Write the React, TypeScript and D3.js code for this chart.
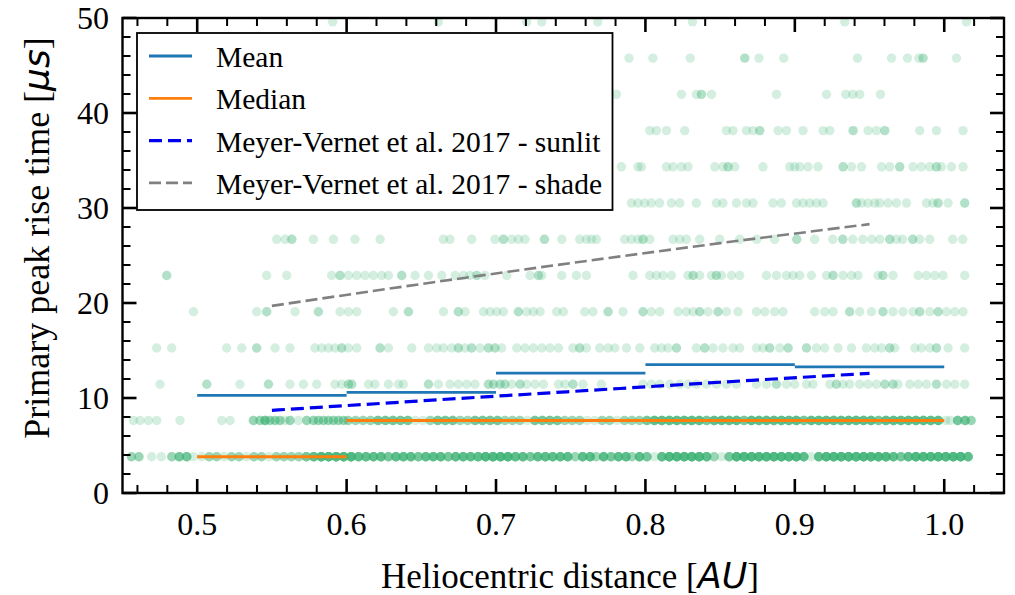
import React from "react";
import * as d3 from "d3";

const W = 1015;
const H = 595;
const plot = { left: 122.5, right: 1004, top: 18, bottom: 493 };

// Rise time levels (multiples of the sampling period, in microseconds)
const riseTimes = [3.815, 7.63, 11.445, 15.26, 19.075, 22.89, 26.705, 30.52, 34.335, 38.15, 41.965, 45.78, 49.595];

// Densely populated levels: [distance, number of events]
const row1: [number, number][] = [
  [0.456, 3], [0.461, 3], [0.4695, 1], [0.476, 1], [0.483, 3], [0.488, 5], [0.493, 5], [0.4975, 1], [0.503, 1],
  [0.508, 3], [0.513, 3], [0.518, 1], [0.523, 3], [0.528, 3], [0.533, 1], [0.538, 3], [0.543, 3], [0.548, 1],
  [0.553, 3], [0.558, 3], [0.563, 3], [0.568, 3], [0.573, 5], [0.578, 7], [0.583, 9], [0.588, 9], [0.593, 9],
  [0.598, 9], [0.603, 9], [0.608, 7], [0.613, 7], [0.618, 7], [0.623, 7], [0.628, 5], [0.633, 7], [0.638, 7],
  [0.643, 7], [0.648, 5], [0.653, 7], [0.658, 7], [0.663, 7], [0.668, 5], [0.673, 7], [0.678, 7], [0.683, 7],
  [0.688, 7], [0.693, 9], [0.698, 9], [0.703, 9], [0.708, 9], [0.713, 7], [0.718, 7], [0.723, 5], [0.728, 7],
  [0.733, 7], [0.738, 7], [0.743, 7], [0.748, 7], [0.753, 3], [0.758, 7], [0.763, 7], [0.767, 3], [0.772, 7],
  [0.777, 5], [0.782, 7], [0.787, 7], [0.791, 3], [0.796, 7], [0.801, 5], [0.806, 1], [0.811, 7], [0.816, 9],
  [0.821, 9], [0.826, 9], [0.831, 9], [0.836, 9], [0.841, 7], [0.846, 3], [0.851, 1], [0.856, 5], [0.861, 9],
  [0.866, 9], [0.871, 9], [0.876, 9], [0.881, 9], [0.886, 9], [0.891, 9], [0.896, 9], [0.901, 9], [0.906, 7],
  [0.911, 1], [0.916, 7], [0.921, 9], [0.926, 9], [0.931, 9], [0.936, 9], [0.941, 9], [0.946, 9], [0.951, 9],
  [0.956, 9], [0.961, 9], [0.966, 7], [0.971, 5], [0.976, 7], [0.981, 9], [0.986, 9], [0.991, 9], [0.996, 9],
  [1.001, 9], [1.006, 9], [1.011, 9], [1.016, 7],
];

const row2: [number, number][] = [
  [0.4573, 1], [0.4617, 1], [0.4673, 1], [0.4729, 1], [0.4885, 1], [0.5164, 1], [0.522, 1], [0.5376, 3],
  [0.542, 3], [0.5454, 5], [0.5487, 3], [0.5521, 3], [0.5554, 3], [0.5588, 1], [0.5621, 3], [0.5677, 1],
  [0.5733, 3], [0.5778, 3], [0.5811, 3], [0.5845, 3], [0.5878, 3], [0.5912, 3], [0.5945, 3], [0.5979, 3],
  [0.601, 3], [0.606, 3], [0.611, 3], [0.616, 3], [0.621, 5], [0.626, 5], [0.631, 5], [0.636, 5], [0.641, 5],
  [0.646, 1], [0.651, 1], [0.656, 3], [0.661, 5], [0.666, 5], [0.671, 5], [0.676, 3], [0.681, 3], [0.686, 5],
  [0.691, 5], [0.696, 5], [0.701, 5], [0.706, 3], [0.711, 3], [0.716, 3], [0.721, 1], [0.726, 5], [0.731, 5],
  [0.736, 5], [0.741, 5], [0.746, 3], [0.751, 3], [0.756, 3], [0.761, 1], [0.766, 1], [0.771, 3], [0.776, 3],
  [0.781, 1], [0.786, 3], [0.791, 3], [0.796, 3], [0.801, 5], [0.806, 7], [0.811, 7], [0.816, 7], [0.821, 7],
  [0.826, 7], [0.831, 7], [0.836, 7], [0.841, 5], [0.846, 7], [0.851, 7], [0.856, 7], [0.861, 7], [0.866, 5],
  [0.871, 7], [0.876, 7], [0.881, 7], [0.886, 7], [0.891, 7], [0.896, 7], [0.901, 7], [0.906, 5], [0.911, 7],
  [0.916, 7], [0.921, 7], [0.926, 7], [0.931, 7], [0.936, 7], [0.941, 7], [0.946, 7], [0.951, 7], [0.956, 5],
  [0.961, 7], [0.966, 7], [0.971, 7], [0.976, 7], [0.981, 7], [0.986, 7], [0.991, 7], [0.996, 7], [1.001, 1],
  [1.004, 1], [1.009, 5], [1.014, 5], [1.018, 3],
];

// Sparser levels: one entry per event (repeated values are coincident events)
const row3 = [
  0.4751, 0.5064, 0.5064, 0.5286, 0.5477, 0.5477, 0.5621, 0.5711, 0.58, 0.5922, 0.5967, 0.6012, 0.6012, 0.6034,
  0.6034, 0.6146, 0.619, 0.628, 0.6347, 0.638, 0.6548, 0.6548, 0.6614, 0.6692, 0.6748, 0.6804, 0.6859, 0.6949,
  0.6949, 0.6983, 0.6983, 0.7027, 0.7027, 0.706, 0.706, 0.7105, 0.7161, 0.7161, 0.7205, 0.7261, 0.7317, 0.7418,
  0.7462, 0.7515, 0.7515, 0.7582, 0.7705, 0.7984, 0.804, 0.8096, 0.8163, 0.823, 0.8285, 0.8341, 0.8408, 0.8475,
  0.8542, 0.8609, 0.8743, 0.881, 0.8877, 0.8877, 0.8944, 0.8999, 0.9078, 0.9122, 0.9234, 0.9278, 0.9278, 0.9323,
  0.9367, 0.9434, 0.949, 0.9546, 0.9602, 0.9602, 0.9657, 0.9657, 0.9691, 0.9769, 0.9825, 0.9881, 0.9948, 0.9948,
  1.0015, 1.0071, 1.0137,
];
const row4 = [
  0.4729, 0.4829, 0.5197, 0.5298, 0.5398, 0.5398, 0.5521, 0.5621, 0.5788, 0.5833, 0.5878, 0.5922, 0.5967, 0.5967,
  0.6012, 0.6068, 0.6224, 0.6224, 0.628, 0.6436, 0.6548, 0.6603, 0.6648, 0.6703, 0.6748, 0.6748, 0.6793, 0.6837,
  0.6837, 0.6893, 0.6949, 0.6949, 0.6993, 0.6993, 0.7038, 0.7139, 0.7194, 0.725, 0.7306, 0.7361, 0.7418, 0.7515,
  0.756, 0.756, 0.7605, 0.7694, 0.775, 0.7795, 0.7873, 0.7962, 0.8062, 0.8107, 0.8151, 0.8208, 0.8208, 0.8341,
  0.8397, 0.8397, 0.8453, 0.8519, 0.8586, 0.8631, 0.8743, 0.8787, 0.8832, 0.8832, 0.8899, 0.8955, 0.8955, 0.9078,
  0.9078, 0.9145, 0.92, 0.9289, 0.9379, 0.9479, 0.9535, 0.958, 0.9635, 0.9635, 0.9669, 0.9803, 0.9847, 0.9903,
  0.9948, 0.9948, 1.0026, 1.0137,
];
const row5 = [
  0.4975, 0.5398, 0.5465, 0.5465, 0.5655, 0.5811, 0.5811, 0.5956, 0.6012, 0.6068, 0.6313, 0.6414, 0.6414, 0.6648,
  0.6748, 0.6748, 0.6793, 0.6916, 0.696, 0.7005, 0.705, 0.715, 0.715, 0.7205, 0.725, 0.7295, 0.7406, 0.7451,
  0.7594, 0.7649, 0.775, 0.775, 0.785, 0.7984, 0.7984, 0.804, 0.8096, 0.8218, 0.8274, 0.8319, 0.8363, 0.8363,
  0.8419, 0.8486, 0.8486, 0.8542, 0.862, 0.8743, 0.8799, 0.8865, 0.8921, 0.9133, 0.92, 0.9256, 0.9367, 0.9367,
  0.9434, 0.9513, 0.959, 0.959, 0.9657, 0.9724, 0.9791, 0.9836, 0.9836, 0.9903, 0.9959, 0.9959, 1.0015, 1.0071,
  1.0126,
];
const row6 = [
  0.4796, 0.4796, 0.5465, 0.5599, 0.59, 0.5956, 0.5956, 0.6012, 0.6068, 0.6123, 0.6179, 0.6235, 0.628, 0.6369,
  0.6369, 0.6458, 0.6548, 0.6637, 0.6726, 0.6782, 0.6826, 0.6871, 0.6871, 0.6926, 0.7072, 0.7228, 0.7284, 0.7284,
  0.7306, 0.744, 0.7538, 0.7605, 0.7917, 0.8029, 0.8074, 0.8118, 0.8174, 0.8285, 0.8319, 0.8319, 0.8363, 0.8442,
  0.8475, 0.8475, 0.8509, 0.8576, 0.8631, 0.881, 0.8877, 0.8944, 0.8988, 0.9033, 0.9111, 0.9212, 0.9256, 0.9256,
  0.9323, 0.9379, 0.9423, 0.9557, 0.959, 0.959, 0.9657, 0.9825, 0.9881, 0.9937, 0.9992, 1.0137,
];
const row7 = [
  0.5532, 0.5588, 0.5633, 0.5633, 0.5778, 0.5912, 0.6056, 0.6224, 0.6648, 0.6692, 0.6837, 0.6993, 0.705, 0.705,
  0.7105, 0.715, 0.7194, 0.7324, 0.7324, 0.744, 0.756, 0.7605, 0.7639, 0.7672, 0.7861, 0.7906, 0.795, 0.7984,
  0.7984, 0.8029, 0.8185, 0.823, 0.8274, 0.8363, 0.8497, 0.8631, 0.8745, 0.8865, 0.9013, 0.9013, 0.9133, 0.9254,
  0.9321, 0.9321, 0.9388, 0.9455, 0.9515, 0.9568, 0.9635, 0.9635, 0.968, 0.9722, 0.9789, 0.9789, 0.9836, 0.9903,
  1.0057, 1.0124,
];
const row8 = [
  0.7906, 0.795, 0.7995, 0.804, 0.8095, 0.8174, 0.823, 0.8341, 0.8475, 0.8519, 0.8609, 0.8676, 0.872, 0.8854,
  0.891, 0.9011, 0.9055, 0.91, 0.9145, 0.9189, 0.9412, 0.9412, 0.9446, 0.949, 0.9535, 0.9568, 0.9624, 0.968,
  0.9747, 0.9881, 0.9925, 0.9959, 0.9959, 1.0026, 1.0137, 1.0137,
];
const row9 = [
  0.7839, 0.795, 0.7973, 0.8141, 0.8185, 0.8241, 0.8285, 0.8464, 0.8519, 0.8553, 0.8553, 0.8598, 0.8787, 0.8966,
  0.8999, 0.9033, 0.9088, 0.9155, 0.9323, 0.9323, 0.9379, 0.9446, 0.958, 0.9635, 0.9702, 0.9702, 0.9791, 0.9847,
  0.9903, 0.9948, 0.9948, 0.9981, 1.0048, 1.0126,
];
const row10 = [
  0.8029, 0.8074, 0.8141, 0.8263, 0.8542, 0.8586, 0.8676, 0.872, 0.8765, 0.8765, 0.8888, 0.8944, 0.9055, 0.9189,
  0.9234, 0.939, 0.939, 0.949, 0.9546, 0.9602, 0.9602, 0.9836, 0.9948, 1.0126,
];
const row11 = [0.7806, 0.8241, 0.8341, 0.8375, 0.8375, 0.8442, 0.8877, 0.9212, 0.9341, 0.9388, 0.9434, 0.9573];
const row12 = [0.789, 0.805, 0.83, 0.8665, 0.8665, 0.876, 0.8926, 0.9419, 0.9647, 0.9754, 0.983, 0.9858, 0.9858, 1.0082];
const row13 = [0.5907, 0.6614, 0.7205, 0.7306, 0.7681, 0.8315, 0.9334, 1.0149];

// Binned statistics
const binEdges = [0.5, 0.6, 0.7, 0.8, 0.9, 1.0];
const meanValues = [10.27, 10.6, 12.62, 13.52, 13.27];
const medianValues = [3.815, 7.63, 7.63, 7.63, 7.63];

// Model curves (Meyer-Vernet et al. 2017)
const modelDistance = [0.55, 0.65, 0.75, 0.85, 0.95];
const sunlitRise = [8.7, 9.7, 10.68, 11.66, 12.6];
const shadeRise = [19.7, 22.0, 24.2, 26.3, 28.3];

const xTickValues = [0.5, 0.6, 0.7, 0.8, 0.9, 1.0];
const xTickLabels = ["0.5", "0.6", "0.7", "0.8", "0.9", "1.0"];
const yTickValues = [0, 10, 20, 30, 40, 50];
const yTickLabels = ["0", "10", "20", "30", "40", "50"];

const legendLabels = ["Mean", "Median", "Meyer-Vernet et al. 2017 - sunlit", "Meyer-Vernet et al. 2017 - shade"];

const SERIF = "'Liberation Serif', 'Times New Roman', serif";
const MATH = "'DejaVu Sans', sans-serif";

export default function App() {
  const x = d3.scaleLinear().domain([0.45, 1.04]).range([plot.left, plot.right]);
  const y = d3.scaleLinear().domain([0, 50]).range([plot.bottom, plot.top]);

  const sparseRows = [row3, row4, row5, row6, row7, row8, row9, row10, row11, row12, row13];
  const points: { x: number; y: number }[] = [];
  [row1, row2].forEach((row, i) => {
    row.forEach(([d, n]) => {
      for (let k = 0; k < n; k++) points.push({ x: d, y: riseTimes[i] });
    });
  });
  sparseRows.forEach((row, i) => {
    row.forEach((d) => points.push({ x: d, y: riseTimes[i + 2] }));
  });

  const line = d3
    .line<[number, number]>()
    .x((d) => x(d[0]))
    .y((d) => y(d[1]))
    .curve(d3.curveMonotoneX);

  const sunlitPath = line(modelDistance.map((d, i) => [d, sunlitRise[i]]));
  const shadePath = line(modelDistance.map((d, i) => [d, shadeRise[i]]));

  const xMinor = d3.range(0.46, 1.041, 0.02).filter((v) => !xTickValues.some((t) => Math.abs(t - v) < 1e-6));
  const yMinor = d3.range(0, 50.1, 2).filter((v) => v % 10 !== 0);

  const majorLen = 14;
  const minorLen = 8;

  const legend = { x: 137, y: 33, w: 475.5, h: 177 };
  const legendRows = [
    { color: "#1f77b4", dash: undefined, width: 2.8 },
    { color: "#ff7f0e", dash: undefined, width: 2.8 },
    { color: "#0000ee", dash: "13 6", width: 3.2 },
    { color: "#808080", dash: "12 5", width: 2.6 },
  ];

  return (
    <svg width={W} height={H} style={{ display: "block", position: "absolute", left: 0, top: 0, background: "#fff" }}>
      <defs>
        <clipPath id="plotArea">
          <rect x={plot.left} y={plot.top} width={plot.right - plot.left} height={plot.bottom - plot.top} />
        </clipPath>
      </defs>
      <rect x={0} y={0} width={W} height={H} fill="#fff" />

      <g clipPath="url(#plotArea)">
        {points.map((p, i) => (
          <circle key={i} cx={x(p.x)} cy={y(p.y)} r={4.7} fill="#3cb371" fillOpacity={0.22} />
        ))}
      </g>

      {/* binned mean and median */}
      {meanValues.map((v, i) => (
        <line key={"m" + i} x1={x(binEdges[i])} x2={x(binEdges[i + 1])} y1={y(v)} y2={y(v)} stroke="#1f77b4" strokeWidth={2.8} />
      ))}
      {medianValues.map((v, i) => (
        <line key={"md" + i} x1={x(binEdges[i])} x2={x(binEdges[i + 1])} y1={y(v)} y2={y(v)} stroke="#ff7f0e" strokeWidth={2.8} />
      ))}

      <path d={sunlitPath ?? ""} fill="none" stroke="#0000ee" strokeWidth={3.2} strokeDasharray="13 6" />
      <path d={shadePath ?? ""} fill="none" stroke="#808080" strokeWidth={2.6} strokeDasharray="12 5" />

      {/* ticks on all four sides, pointing inward */}
      <g stroke="#000">
        {xTickValues.map((v) => (
          <g key={"xt" + v}>
            <line x1={x(v)} x2={x(v)} y1={plot.bottom} y2={plot.bottom - majorLen} strokeWidth={2.6} />
            <line x1={x(v)} x2={x(v)} y1={plot.top} y2={plot.top + majorLen} strokeWidth={2.6} />
          </g>
        ))}
        {xMinor.map((v) => (
          <g key={"xm" + v}>
            <line x1={x(v)} x2={x(v)} y1={plot.bottom} y2={plot.bottom - minorLen} strokeWidth={2} />
            <line x1={x(v)} x2={x(v)} y1={plot.top} y2={plot.top + minorLen} strokeWidth={2} />
          </g>
        ))}
        {yTickValues.map((v) => (
          <g key={"yt" + v}>
            <line x1={plot.left} x2={plot.left + majorLen} y1={y(v)} y2={y(v)} strokeWidth={2.6} />
            <line x1={plot.right} x2={plot.right - majorLen} y1={y(v)} y2={y(v)} strokeWidth={2.6} />
          </g>
        ))}
        {yMinor.map((v) => (
          <g key={"ym" + v}>
            <line x1={plot.left} x2={plot.left + minorLen} y1={y(v)} y2={y(v)} strokeWidth={2} />
            <line x1={plot.right} x2={plot.right - minorLen} y1={y(v)} y2={y(v)} strokeWidth={2} />
          </g>
        ))}
      </g>
      <rect x={plot.left} y={plot.top} width={plot.right - plot.left} height={plot.bottom - plot.top} fill="none" stroke="#000" strokeWidth={2.4} />

      {/* tick labels */}
      <g fontFamily={SERIF} fontSize={32} fill="#000">
        {xTickValues.map((v, i) => (
          <text key={"xl" + v} x={x(v)} y={535} textAnchor="middle">{xTickLabels[i]}</text>
        ))}
        {yTickValues.map((v, i) => (
          <text key={"yl" + v} x={109} y={y(v) + 11} textAnchor="end">{yTickLabels[i]}</text>
        ))}
      </g>

      {/* axis titles */}
      <text x={570} y={588} textAnchor="middle" fontFamily={SERIF} fontSize={35}>
        Heliocentric distance [<tspan fontFamily={MATH} fontStyle="italic" fontSize={35}>AU</tspan>]
      </text>
      <text transform={`translate(49, 238) rotate(-90)`} textAnchor="middle" fontFamily={SERIF} fontSize={36}>
        Primary peak rise time [<tspan fontFamily={MATH} fontStyle="italic" fontSize={36}>μs</tspan>]
      </text>

      {/* legend */}
      <g>
        <rect x={legend.x} y={legend.y} width={legend.w} height={legend.h} fill="#fff" stroke="#000" strokeWidth={1.8} />
        {legendLabels.map((label, i) => {
          const cy = 56 + i * 42.3;
          const s = legendRows[i];
          return (
            <g key={label}>
              <line x1={149} x2={192} y1={cy} y2={cy} stroke={s.color} strokeWidth={s.width} strokeDasharray={s.dash} />
              <text x={216} y={cy + 11} fontFamily={SERIF} fontSize={29.5}>{label}</text>
            </g>
          );
        })}
      </g>
    </svg>
  );
}
